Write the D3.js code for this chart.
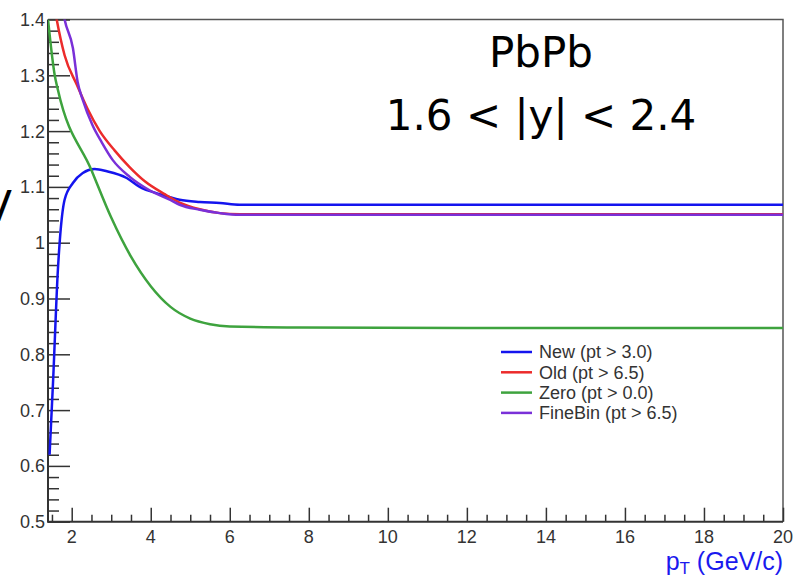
<!DOCTYPE html>
<html>
<head>
<meta charset="utf-8">
<script src="https://cdn.jsdelivr.net/npm/d3@7"></script>
<style>
  body { margin: 0; background: #fff; }
  svg { display: block; }
  .tick-label { font-family: "Liberation Sans", Arial, sans-serif; font-size: 18px; fill: #333; }
  .legend-label { font-family: "Liberation Sans", Arial, sans-serif; font-size: 18px; fill: #333; }
  .big-label { font-family: "DejaVu Sans", sans-serif; font-size: 42px; fill: #000; }
</style>
</head>
<body>
<svg id="chart" width="793" height="577"></svg>
<script>
// values

// New (pt > 3.0)
const ptNew  = [1.44, 1.53, 1.65, 1.70, 1.82, 2.03, 2.28, 2.58, 2.89, 3.39, 3.72, 4.23, 4.73, 5.24, 5.75, 6.25, 8, 12, 16, 20];
const effNew = [0.62, 0.754, 0.951, 1.005, 1.077, 1.107, 1.125, 1.132, 1.128, 1.116, 1.10, 1.087, 1.077, 1.073, 1.071, 1.068, 1.068, 1.068, 1.068, 1.068];

// Old (pt > 6.5)
const ptOld  = [1.50, 1.62, 1.82, 2.13, 2.40, 2.71, 3.09, 3.47, 3.85, 4.35, 4.73, 5.24, 5.75, 6.25, 8, 12, 16, 20];
const effOld = [1.45, 1.40, 1.336, 1.283, 1.24, 1.20, 1.165, 1.135, 1.11, 1.087, 1.072, 1.060, 1.053, 1.051, 1.051, 1.051, 1.051, 1.051];

// Zero (pt > 0.0)
const ptZero  = [1.40, 1.57, 1.65, 2.50, 3.00, 3.50, 4.00, 4.50, 5.00, 5.50, 6.00, 7.77, 12, 16, 20];
const effZero = [1.40, 1.30, 1.274, 1.13, 1.045, 0.975, 0.922, 0.885, 0.864, 0.854, 0.85, 0.848, 0.847, 0.847, 0.847];

// FineBin (pt > 6.5)
const ptFine  = [1.70, 1.82, 2.03, 2.15, 2.28, 2.53, 2.76, 3.04, 3.47, 3.97, 4.48, 4.73, 5.24, 5.75, 6.25, 8, 12, 16, 20];
const effFine = [1.45, 1.40, 1.349, 1.288, 1.256, 1.21, 1.18, 1.148, 1.118, 1.094, 1.077, 1.068, 1.059, 1.053, 1.050, 1.050, 1.050, 1.050, 1.050];

const seriesNames  = ["New (pt > 3.0)", "Old (pt > 6.5)", "Zero (pt > 0.0)", "FineBin (pt > 6.5)"];
const seriesColors = ["#1414ee", "#ec2b2b", "#3ea33e", "#7a30d8"];

const xTicks = [2, 4, 6, 8, 10, 12, 14, 16, 18, 20];
const yTicks = [0.5, 0.6, 0.7, 0.8, 0.9, 1, 1.1, 1.2, 1.3, 1.4];

const svg = d3.select("#chart");

// plot frame in pixels
const frame = {left: 48, right: 783, top: 19.5, bottom: 521.7};

const x = d3.scaleLinear().domain([1.4, 20]).range([frame.left, frame.right]);
const y = d3.scaleLinear().domain([0.5, 1.4]).range([frame.bottom, frame.top]);

svg.append("defs").append("clipPath").attr("id", "plot-clip")
  .append("rect")
  .attr("x", frame.left).attr("y", frame.top)
  .attr("width", frame.right - frame.left)
  .attr("height", frame.bottom - frame.top);

// top and right frame lines
svg.append("path")
  .attr("d", `M${frame.left},${frame.top}H${frame.right}V${frame.bottom}`)
  .attr("fill", "none")
  .attr("stroke", "#555")
  .attr("stroke-width", 1.5);

const isMultiple = (v, step) => Math.abs(v / step - Math.round(v / step)) < 1e-6;

// x axis: major every 2, minor every 0.5, ticks pointing inward
const gx = svg.append("g").attr("transform", `translate(0,${frame.bottom})`);
gx.call(d3.axisBottom(x).tickValues(d3.range(3, 41).map(i => i * 0.5)).tickSize(-7).tickFormat(""));
gx.selectAll(".tick").filter(d => isMultiple(d, 2)).select("line").attr("y2", -14);
gx.selectAll(".tick line").attr("stroke", "#333").attr("stroke-width", 1.5);
gx.select(".domain").remove();
gx.selectAll(".tick-text")
  .data(xTicks)
  .enter()
  .append("text")
  .attr("class", "tick-label")
  .attr("x", d => x(d))
  .attr("y", 543 - frame.bottom)
  .attr("text-anchor", "middle")
  .text(d => d);

// y axis: major every 0.1, minor every 0.02
const gy = svg.append("g").attr("transform", `translate(${frame.left},0)`);
gy.call(d3.axisLeft(y).tickValues(d3.range(0, 46).map(i => 0.5 + i * 0.02)).tickSize(-11).tickFormat(""));
gy.selectAll(".tick").filter((d, i) => i % 5 === 0).select("line").attr("x2", 22);
gy.selectAll(".tick line").attr("stroke", "#333").attr("stroke-width", 1.5);
gy.select(".domain").remove();
gy.selectAll(".tick-text")
  .data(yTicks)
  .enter()
  .append("text")
  .attr("class", "tick-label")
  .attr("x", -3)
  .attr("y", d => y(d))
  .attr("dy", "0.36em")
  .attr("text-anchor", "end")
  .text(d => d);

// left and bottom axis lines
svg.append("path")
  .attr("d", `M${frame.left},${frame.top}V${frame.bottom}H${frame.right}`)
  .attr("fill", "none")
  .attr("stroke", "#333")
  .attr("stroke-width", 2);

// curves
const series = [
  {pt: ptNew,  eff: effNew},
  {pt: ptOld,  eff: effOld},
  {pt: ptZero, eff: effZero},
  {pt: ptFine, eff: effFine}
];

const line = d3.line()
  .curve(d3.curveMonotoneX)
  .x(d => x(d[0]))
  .y(d => y(d[1]));

svg.append("g")
  .attr("clip-path", "url(#plot-clip)")
  .selectAll("path.curve")
  .data(series)
  .enter()
  .append("path")
  .attr("class", "curve")
  .attr("d", s => line(s.pt.map((p, i) => [p, s.eff[i]])))
  .attr("fill", "none")
  .attr("stroke", (s, i) => seriesColors[i])
  .attr("stroke-width", 2.5);

// legend
const legend = svg.append("g").attr("transform", "translate(501,352)");
const rows = legend.selectAll("g")
  .data(seriesNames)
  .enter()
  .append("g")
  .attr("transform", (d, i) => `translate(0,${i * 20.3})`);
rows.append("line")
  .attr("x1", 0).attr("x2", 31)
  .attr("stroke", (d, i) => seriesColors[i])
  .attr("stroke-width", 2.5);
rows.append("text")
  .attr("class", "legend-label")
  .attr("x", 38)
  .attr("dy", "0.36em")
  .text(d => d);

// annotation
svg.append("text").attr("class", "big-label")
  .attr("x", 541).attr("y", 67).attr("text-anchor", "middle")
  .text("PbPb");
svg.append("text").attr("class", "big-label")
  .attr("x", 541).attr("y", 130).attr("text-anchor", "middle")
  .text("1.6 < |y| < 2.4");

// cut-off label at the left edge
svg.append("text").attr("class", "big-label")
  .attr("x", 12).attr("y", 221).attr("text-anchor", "end")
  .text("V");

// x axis title
const xt = svg.append("text")
  .attr("x", 783).attr("y", 570)
  .attr("text-anchor", "end")
  .attr("font-family", "Liberation Sans, Arial, sans-serif")
  .attr("font-size", 25)
  .attr("fill", "#1a1aee");
xt.append("tspan").text("p");
xt.append("tspan").attr("font-size", 17).attr("dy", 4).text("T");
xt.append("tspan").attr("dy", -4).text(" (GeV/c)");
</script>
</body>
</html>
